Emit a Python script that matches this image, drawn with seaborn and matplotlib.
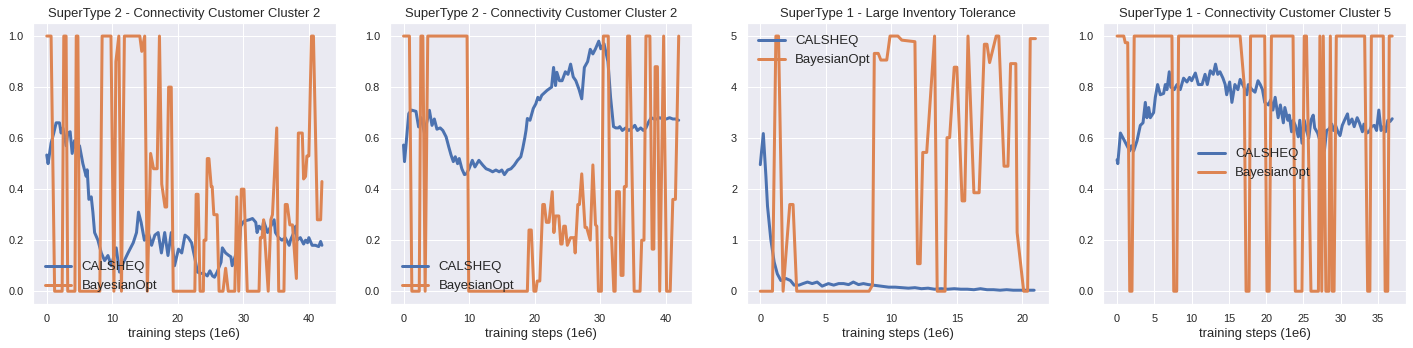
import numpy as np
import pandas as pd
import matplotlib
matplotlib.use("Agg")
import matplotlib.pyplot as plt
import seaborn as sns

# ---- data ------------------------------------------------------------------
titles = [
    "SuperType 2 - Connectivity Customer Cluster 2",
    "SuperType 2 - Connectivity Customer Cluster 2",
    "SuperType 1 - Large Inventory Tolerance",
    "SuperType 1 - Connectivity Customer Cluster 5",
]
legend_locs = ["lower left", "lower left", "upper left", "center"]

# panel 1
p1_cal_x = [0, 0.2, 0.66, 1.07, 1.43, 1.94, 2.19, 2.45, 2.7, 2.96, 3.21, 3.57, 3.88, 4.23,
            4.59, 5.0, 5.51, 6.02, 6.17, 6.43, 6.79, 7.04, 7.3, 7.81, 8.32, 8.83, 9.34, 9.85,
            10.6, 11.1, 11.6, 12.4, 13.2, 13.7, 14.0, 14.4, 14.9, 15.5, 16.0, 16.5, 17.0,
            17.5, 18.0, 18.5, 19.0, 19.5, 20.1, 20.6, 21.1, 21.6, 22.1, 22.6, 23.0, 23.5,
            24.0, 24.5, 24.9, 25.3, 25.6, 26.0, 26.6, 26.8, 27.3, 27.8, 28.1, 28.3, 28.8,
            29.3, 29.6, 30.1, 30.9, 31.4, 31.9, 32.1, 32.4, 32.9, 33.1, 33.7, 34.2, 34.7,
            34.9, 35.4, 35.9, 36.4, 37.0, 37.2, 37.7, 38.0, 38.2, 38.7, 39.2, 39.5, 39.8,
            40.0, 40.5, 41.0, 41.5, 41.8, 42.0]
p1_cal_y = [0.534, 0.50, 0.58, 0.62, 0.66, 0.66, 0.62, 0.64, 0.61, 0.57, 0.62, 0.625, 0.54, 0.59,
            0.55, 0.57, 0.50, 0.45, 0.476, 0.36, 0.37, 0.31, 0.23, 0.20, 0.15, 0.12, 0.14, 0.10,
            0.17, 0.075, 0.107, 0.15, 0.19, 0.23, 0.31, 0.27, 0.20, 0.23, 0.18, 0.22, 0.23,
            0.15, 0.23, 0.14, 0.23, 0.10, 0.165, 0.15, 0.22, 0.21, 0.19, 0.13, 0.075, 0.07,
            0.07, 0.06, 0.08, 0.06, 0.055, 0.075, 0.114, 0.17, 0.15, 0.14, 0.135, 0.10, 0.14,
            0.15, 0.255, 0.275, 0.28, 0.285, 0.27, 0.23, 0.255, 0.24, 0.275, 0.23, 0.255, 0.28,
            0.23, 0.21, 0.20, 0.21, 0.18, 0.20, 0.23, 0.255, 0.20, 0.21, 0.185, 0.20, 0.19,
            0.21, 0.18, 0.18, 0.175, 0.195, 0.18]
p1_bo_x = [0, 0.66, 1.2, 2.35, 2.6, 2.95, 3.2, 4.3, 4.5, 4.75, 5.0, 8.1, 8.45, 9.8, 10.25,
           10.55, 11.0, 11.4, 11.85, 14.2, 14.5, 14.95, 15.35, 15.85, 16.3, 16.85, 17.2,
           17.55, 18.05, 18.3, 18.6, 19.0, 19.3, 22.6, 22.8, 23.1, 23.4, 23.9, 24.0, 24.3,
           24.5, 24.75, 25.1, 25.25, 25.5, 26.0, 26.3, 26.9, 27.3, 27.7, 28.7, 29.0, 29.3,
           29.7, 30.1, 30.6, 32.4, 32.6, 32.85, 33.1, 33.8, 34.2, 34.45, 35.1, 35.4, 36.2,
           36.4, 36.7, 37.1, 37.5, 38.1, 38.4, 39.0, 39.2, 39.5, 39.7, 40.0, 40.4, 40.7,
           41.3, 41.8, 42.0]
p1_bo_y = [1.0, 1.0, 0, 0, 1.0, 1.0, 0, 0, 1.0, 1.0, 0, 0, 1.0, 1.0, 0,
           0.9, 1.0, 0, 1.0, 1.0, 0.94, 1.0, 0, 0.54, 0.48, 0.48, 1.0,
           0.42, 0.33, 0.33, 0.80, 0.80, 0, 0, 0.38, 0.38, 0, 0, 0.20, 0.20,
           0.52, 0.52, 0.41, 0.41, 0.30, 0.30, 0, 0, 0.09, 0, 0, 0.37, 0,
           0.40, 0.40, 0, 0, 0.21, 0.21, 0.28, 0, 0.28, 0.30, 0.64, 0, 0,
           0.34, 0.34, 0.26, 0.26, 0.05, 0.62, 0.62, 0.44, 0.45, 0.53, 0.53, 1.0, 1.0,
           0.28, 0.28, 0.43]

# panel 2
p2_cal_x = [0, 0.15, 0.4, 0.8, 1.2, 1.9, 2.3, 2.7, 3.2, 3.95, 4.35, 4.7, 5.1, 5.6, 6.0,
            6.5, 6.9, 7.25, 7.6, 7.9, 8.25, 8.5, 8.9, 9.3, 9.6, 10.0, 10.5, 10.9, 11.5, 12.1,
            12.6, 13.1, 13.6, 14.1, 14.6, 15.0, 15.4, 15.9, 16.4, 16.9, 17.4, 17.9, 18.2,
            18.5, 18.7, 18.9, 19.3, 19.8, 20.2, 20.5, 20.8, 21.1, 21.9, 22.6, 22.9, 23.2,
            23.4, 23.8, 24.2, 24.7, 25.1, 25.5, 25.9, 26.3, 26.8, 27.2, 27.6, 28.1, 28.5,
            28.9, 29.3, 29.8, 30.1, 30.6, 31.2, 31.6, 32.05, 32.4, 32.8, 33.0, 33.4, 33.9,
            34.4, 34.9, 35.3, 35.7, 36.2, 36.6, 37.0, 37.4, 37.8, 38.2, 38.7, 39.1, 39.6,
            40.1, 40.6, 41.1, 41.5, 42.0]
p2_cal_y = [0.573, 0.508, 0.58, 0.696, 0.71, 0.705, 0.644, 0.68, 0.62, 0.709, 0.65, 0.675, 0.635,
            0.64, 0.63, 0.605, 0.566, 0.534, 0.508, 0.527, 0.50, 0.52, 0.48, 0.457, 0.46, 0.48,
            0.513, 0.487, 0.513, 0.494, 0.48, 0.475, 0.468, 0.475, 0.468, 0.475, 0.457, 0.475,
            0.48, 0.494, 0.513, 0.527, 0.56, 0.60, 0.631, 0.677, 0.67, 0.716, 0.735, 0.76,
            0.75, 0.768, 0.787, 0.80, 0.877, 0.806, 0.858, 0.825, 0.825, 0.86, 0.85, 0.89,
            0.84, 0.825, 0.79, 0.754, 0.877, 0.90, 0.948, 0.93, 0.95, 0.98, 0.95, 0.97, 0.90,
            0.76, 0.645, 0.64, 0.64, 0.645, 0.63, 0.64, 0.63, 0.64, 0.65, 0.63, 0.64, 0.63,
            0.64, 0.663, 0.68, 0.675, 0.675, 0.68, 0.675, 0.675, 0.68, 0.675, 0.675, 0.67]
p2_bo_x = [0, 0.9, 1.27, 2.4, 2.65, 2.95, 3.3, 3.7, 9.7, 9.95, 18.9, 19.15, 19.5, 19.9, 20.2,
           20.4, 20.8, 21.25, 21.5, 21.8, 22.2, 22.7, 22.95, 23.2, 23.7, 24.0, 24.2, 24.45,
           24.7, 25.0, 25.5, 26.0, 26.2, 26.6, 26.85, 27.2, 27.7, 27.95, 28.5, 28.9, 29.3,
           29.5, 29.75, 30.2, 30.5, 31.25, 31.5, 31.75, 32.1, 32.3, 32.5, 32.95, 33.2, 33.5,
           33.7, 34.0, 34.2, 34.5, 35.2, 36.1, 36.35, 36.7, 37.0, 37.6, 37.95, 38.2, 38.4,
           38.75, 39.1, 39.7, 40.15, 40.7, 41.1, 41.5, 42.0]
p2_bo_y = [1.0, 1.0, 0, 0, 1.0, 1.0, 0, 1.0, 1.0, 0, 0, 0.24, 0.24, 0, 0,
           0.04, 0.04, 0.34, 0.34, 0.27, 0.27, 0.39, 0.23, 0.295, 0.295, 0.185, 0.185, 0.255,
           0.255, 0.18, 0.21, 0.21, 0.15, 0.34, 0.34, 0.46, 0.25, 0.25, 0.20, 0.495, 0.26,
           0.255, 0, 0, 1.0, 1.0, 0.21, 0.21, 0, 0, 0.39, 0.39, 0.062, 0.062,
           0.41, 0.41, 1.0, 1.0, 0, 0, 0.20, 0.20, 1.0, 1.0, 0.165, 0.165, 0.88,
           0.88, 0, 1.0, 0, 0, 0.36, 0.36, 1.0]

# panel 3
p3_cal_x = [0, 0.23, 0.43, 0.55, 0.8, 1.06, 1.3, 1.57, 1.95, 2.3, 2.58, 2.96, 3.26, 3.6, 3.96,
            4.34, 4.72, 5.2, 5.6, 5.98, 6.36, 6.74, 7.1, 7.5, 7.87, 8.25, 8.6, 9.2, 9.8, 10.3,
            10.8, 11.3, 11.8, 12.3, 12.8, 13.3, 13.8, 14.3, 14.8, 15.3, 15.8, 16.3, 16.8,
            17.3, 17.8, 18.3, 18.8, 19.3, 19.8, 20.3, 20.9]
p3_cal_y = [2.48, 3.09, 2.25, 1.67, 1.02, 0.57, 0.34, 0.21, 0.25, 0.21, 0.12, 0.12, 0.15, 0.18, 0.15,
            0.18, 0.10, 0.15, 0.12, 0.15, 0.15, 0.13, 0.18, 0.13, 0.15, 0.13, 0.12, 0.10, 0.08, 0.08,
            0.07, 0.06, 0.07, 0.05, 0.06, 0.04, 0.05, 0.04, 0.05, 0.04, 0.04, 0.03, 0.05,
            0.03, 0.03, 0.02, 0.03, 0.02, 0.02, 0.02, 0.02]
p3_bo_x = [0, 0.93, 1.19, 1.39, 1.74, 2.25, 2.5, 2.78, 8.3, 8.56, 8.7, 9.0, 9.2, 9.65, 9.9,
           10.5, 10.8, 11.8, 12.0, 12.2, 12.4, 12.7, 13.3, 13.5, 14.1, 14.25, 14.45, 14.8,
           15.0, 15.4, 15.6, 15.85, 16.3, 16.7, 17.1, 17.3, 17.5, 18.0, 18.2, 18.6, 18.9,
           19.1, 19.5, 19.6, 20.1, 20.4, 20.6, 21.0]
p3_bo_y = [0, 0, 5.0, 5.0, 0, 1.70, 1.70, 0, 0, 0.12, 4.66, 4.66, 4.53, 4.53, 5.0,
           5.0, 4.92, 4.89, 0.54, 0.54, 2.72, 2.72, 5.0, 0, 0, 3.01, 3.01, 4.39,
           4.39, 1.77, 1.77, 5.0, 1.93, 1.93, 4.84, 4.84, 4.48, 5.0, 5.0, 2.45, 2.45,
           4.46, 4.46, 1.15, 0, 0, 4.95, 4.95]

# panel 4
p4_cal_x = [0, 0.1, 0.45, 0.9, 1.34, 1.7, 1.92, 2.23, 2.68, 3.12, 3.48, 3.79, 4.0, 4.24, 4.46,
            4.9, 5.13, 5.44, 5.8, 6.24, 6.47, 6.69, 7.0, 7.2, 7.67, 8.03, 8.47, 8.92, 9.37,
            9.72, 10.0, 10.5, 10.9, 11.4, 11.8, 12.1, 12.5, 12.9, 13.2, 13.5, 13.8, 14.2,
            14.5, 14.7, 15.1, 15.4, 15.8, 16.2, 16.5, 17.0, 17.4, 17.6, 18.1, 18.5, 18.9,
            19.2, 19.5, 19.8, 20.3, 20.6, 20.9, 21.2, 21.6, 21.9, 22.3, 22.5, 22.9, 23.1,
            23.4, 23.6, 23.9, 24.3, 24.5, 24.8, 25.1, 25.4, 25.7, 26.0, 26.3, 26.5, 26.9,
            27.2, 27.5, 27.8, 28.1, 28.4, 28.8, 29.0, 29.3, 29.6, 29.9, 30.2, 30.5, 30.9,
            31.1, 31.5, 31.8, 32.2, 32.5, 32.9, 33.1, 33.5, 33.8, 34.1, 34.5, 34.8, 35.1,
            35.4, 35.7, 36.0, 36.3, 36.6, 36.9]
p4_cal_y = [0.515, 0.50, 0.62, 0.595, 0.57, 0.55, 0.57, 0.55, 0.59, 0.65, 0.66, 0.74, 0.68, 0.72, 0.68,
            0.70, 0.76, 0.81, 0.77, 0.775, 0.81, 0.79, 0.86, 0.80, 0.79, 0.81, 0.79, 0.835, 0.82,
            0.838, 0.825, 0.855, 0.81, 0.81, 0.85, 0.81, 0.864, 0.85, 0.89, 0.85, 0.86, 0.835,
            0.81, 0.77, 0.82, 0.74, 0.81, 0.79, 0.83, 0.80, 0.77, 0.81, 0.79, 0.78, 0.825,
            0.81, 0.79, 0.74, 0.73, 0.75, 0.71, 0.76, 0.68, 0.73, 0.66, 0.72, 0.67, 0.69,
            0.625, 0.67, 0.65, 0.605, 0.67, 0.58, 0.67, 0.63, 0.60, 0.67, 0.69, 0.64, 0.62,
            0.59, 0.565, 0.55, 0.63, 0.635, 0.655, 0.63, 0.65, 0.625, 0.61, 0.65, 0.67, 0.695,
            0.655, 0.675, 0.645, 0.68, 0.66, 0.625, 0.655, 0.62, 0.625, 0.645, 0.65, 0.63, 0.71,
            0.63, 0.645, 0.625, 0.67, 0.665, 0.676]
p4_bo_x = [0, 0.9, 1.1, 1.43, 1.7, 2.0, 2.3, 7.36, 7.6, 8.0, 8.25, 16.5, 17.05, 17.3, 17.7,
           17.9, 19.8, 20.1, 20.4, 20.7, 23.6, 23.9, 24.8, 25.1, 25.4, 26.0, 27.0, 27.2,
           27.45, 27.65, 28.0, 28.4, 28.6, 28.85, 29.1, 29.4, 33.2, 33.6, 33.9, 34.1, 35.7,
           35.95, 36.3, 36.5, 36.9]
p4_bo_y = [1.0, 1.0, 0.974, 0.974, 0, 0, 1.0, 1.0, 0, 0, 1.0, 1.0, 0.81, 0, 0,
           1.0, 1.0, 0, 0, 1.0, 1.0, 0, 0, 1.0, 1.0, 0, 0, 1.0,
           0, 1.0, 0, 0, 1.0, 0, 0, 1.0, 1.0, 0, 0, 1.0, 1.0,
           0, 0, 1.0, 1.0]

cal_x = [p1_cal_x, p2_cal_x, p3_cal_x, p4_cal_x]
cal_y = [p1_cal_y, p2_cal_y, p3_cal_y, p4_cal_y]
bo_x = [p1_bo_x, p2_bo_x, p3_bo_x, p4_bo_x]
bo_y = [p1_bo_y, p2_bo_y, p3_bo_y, p4_bo_y]

# ---- plotting ---------------------------------------------------------------
sns.set_theme(style="darkgrid")
plt.rcParams['font.family'] = ['Liberation Sans', 'DejaVu Sans']
plt.rcParams['xtick.labelsize'] = 11
plt.rcParams['ytick.labelsize'] = 11

fig, axes = plt.subplots(1, 4, figsize=(1413 / 72, 348 / 72), dpi=72)
fig.subplots_adjust(left=33 / 1413, right=1406 / 1413, bottom=1 - 304 / 348,
                    top=1 - 23.3 / 348, wspace=0.1786)

for i, ax in enumerate(axes):
    sns.lineplot(x=cal_x[i], y=cal_y[i], ax=ax, label="CALSHEQ", lw=3,
                 estimator=None, sort=False)
    sns.lineplot(x=bo_x[i], y=bo_y[i], ax=ax, label="BayesianOpt", lw=3,
                 estimator=None, sort=False)
    ax.set_title(titles[i], fontsize=13)
    ax.set_xlabel("training steps (1e6)", fontsize=13)
    ax.set_ylabel("")
    ax.legend(loc=legend_locs[i], frameon=False, fontsize=13.2)

fig.savefig("out.png", dpi=72)
